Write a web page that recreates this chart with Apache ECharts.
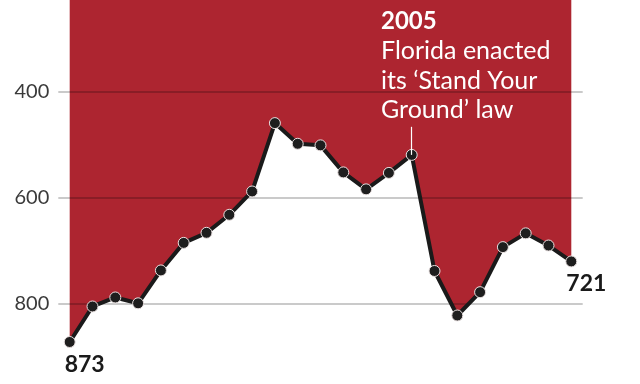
<!DOCTYPE html>
<html><head><meta charset="utf-8">
<script src="https://cdn.jsdelivr.net/npm/echarts@6/dist/echarts.min.js"></script>
<style>html,body{margin:0;padding:0;background:#fff}#c{width:640px;height:384px}</style>
</head><body><div id="c"></div>
<script>
const years = [1990,1991,1992,1993,1994,1995,1996,1997,1998,1999,2000,2001,2002,2003,2004,2005,2006,2007,2008,2009,2010,2011,2012];
const deaths = [873,806,789,800,738,686,667,633,589,460,499,502,553,585,554,520,739,823,779,694,668,691,721];
const yTicks = [200,400,600,800,1000];
const noteYear = 2005;
const noteTitle = '2005';
const noteText = ['Florida enacted','its ‘Stand Your','Ground’ law'];

const pts = years.map((y,i)=>[y,deaths[i]]);
const last = pts.length-1;
const linePts = pts.map((p,i)=>{
  if(i===0||i===last){
    return {value:p,label:{show:true,position:'bottom',offset:[15,0],formatter:String(p[1]),
      fontFamily:'Lato',fontWeight:'bold',fontSize:23,color:'#1a1a1a'}};
  }
  return {value:p};
});
const noteVal = deaths[years.indexOf(noteYear)];

const chart = echarts.init(document.getElementById('c'),null,{renderer:'canvas'});
chart.setOption({
  animation:false,
  grid:{left:58.3,right:57.3,top:-14.7,bottom:-25.3,containLabel:false,outerBoundsMode:'none'},
  xAxis:{type:'value',min:1989.5,max:2012.5,show:false},
  yAxis:{type:'value',inverse:true,min:yTicks[0],max:yTicks[yTicks.length-1],interval:200,z:2,
    axisLine:{show:false},axisTick:{show:false},
    axisLabel:{margin:9,fontFamily:'Lato',fontSize:20,color:'#3a3a3a',verticalAlign:'middle',
      formatter:v=>yTicks.includes(v)?String(v):''},
    splitLine:{show:true,lineStyle:{color:'rgba(0,0,0,0.28)',width:1.5}}},
  series:[
    {type:'line',z:1,data:pts,showSymbol:false,symbol:'none',
      lineStyle:{width:0},areaStyle:{color:'#ad2530',opacity:1,origin:'start'},
      markLine:{silent:true,symbol:'none',label:{show:false},
        lineStyle:{color:'#fff',width:1.2,type:'solid'},
        data:[[{coord:[noteYear,467]},{coord:[noteYear,noteVal]}]]}},
    {type:'line',z:3,data:linePts,symbol:'circle',symbolSize:11,
      lineStyle:{color:'#1a1a1a',width:4},
      itemStyle:{color:'#1e1e1e',borderColor:'#e8e0e0',borderWidth:1}}
  ],
  graphic:[{type:'text',left:381,top:7,z:10,
    style:{text:'{b|'+noteTitle+'}\n'+noteText.join('\n'),
      fill:'#fff',fontFamily:'Lato',fontSize:25,lineHeight:29.5,
      rich:{b:{fontWeight:'bold',fontFamily:'Lato',fontSize:24,lineHeight:29.5,fill:'#fff'}}}}]
});
</script></body></html>
